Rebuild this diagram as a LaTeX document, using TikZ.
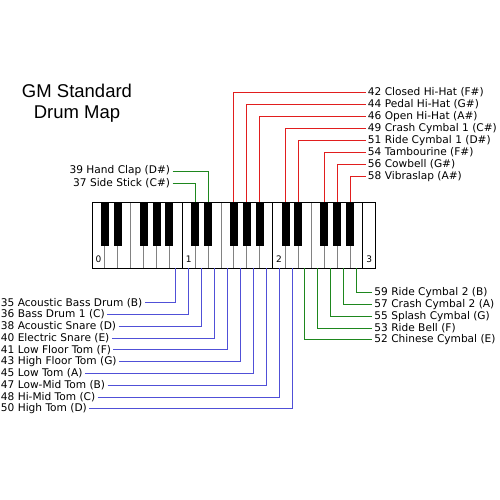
\documentclass[tikz,border=0pt]{standalone}
\usepackage{fontspec}
\setmainfont{DejaVu Sans}
\newfontfamily\titlefont{Liberation Sans}
\usetikzlibrary{positioning}
\definecolor{hatred}{RGB}{225,30,30}
\definecolor{tomblue}{RGB}{80,80,215}
\definecolor{cymgreen}{RGB}{30,135,30}
\definecolor{keygray}{RGB}{130,130,130}
\tikzset{
    drumlabel/.style={inner ysep=0pt, inner xsep=2pt, font=\fontsize{10.6}{12}\selectfont},
    octlabel/.style={inner sep=0pt, font=\fontsize{9}{10}\selectfont}
}

\begin{document}
\begin{tikzpicture}[x=1pt, y=-1pt, line width=0.9pt]
    \useasboundingbox (0,0) rectangle (500,500);
    \def\kw{12.9}
    \node[font=\titlefont\fontsize{18.5}{21}\selectfont, align=center] (title) at (77, 103) {GM Standard\\Drum Map};
    % keyboard
    \foreach \k in {1,...,21}{
        \draw[keygray] (92+\k*\kw, 202) -- (92+\k*\kw, 268);
    }
    \foreach \k in {7,14,21}{
        \draw (92+\k*\kw, 202) -- (92+\k*\kw, 268);
    }
    \foreach \k in {1,2,4,5,6,8,9,11,12,13,15,16,18,19,20}{
        \fill (92+\k*\kw-4, 202) rectangle (92+\k*\kw+4, 246);
        \coordinate (b\k) at (92+\k*\kw, 202);
    }
    \foreach \k in {0,...,21}{
        \coordinate (w\k) at (92+\k*\kw+0.5*\kw, 268);
    }
    \draw (92, 202) rectangle (92+22*\kw, 268);
    \foreach \k/\o in {0/0, 7/1, 14/2, 21/3}{
        \node[octlabel] (oct\o) at (92+\k*\kw+0.5*\kw, 259) {\o};
    }
    % black keys, above
    \foreach \num/\drum/\k [count=\i from 0] in {42/Closed Hi-Hat (F\#)/11, 44/Pedal Hi-Hat (G\#)/12,
        46/Open Hi-Hat (A\#)/13, 49/Crash Cymbal 1 (C\#)/15, 51/Ride Cymbal 1 (D\#)/16,
        54/Tambourine (F\#)/18, 56/Cowbell (G\#)/19, 58/Vibraslap (A\#)/20}{
        \node[drumlabel, anchor=west] (d\num) at (365.5, 92.5+12*\i) {\num\ \drum};
        \draw[hatred] (d\num.west) -| (b\k);
    }
    \foreach \num/\drum/\k [count=\i from 0] in {39/Hand Clap (D\#)/9, 37/Side Stick (C\#)/8}{
        \node[drumlabel, anchor=east] (d\num) at (172.5, 171+12.3*\i) {\num\ \drum};
        \draw[cymgreen] (d\num.east) -| (b\k);
    }
    % white keys, below
    \foreach \num/\drum/\k [count=\i from 0] in {35/Acoustic Bass Drum (B)/6, 36/Bass Drum 1 (C)/7,
        38/Acoustic Snare (D)/8, 40/Electric Snare (E)/9, 41/Low Floor Tom (F)/10,
        43/High Floor Tom (G)/11, 45/Low Tom (A)/12, 47/Low-Mid Tom (B)/13,
        48/Hi-Mid Tom (C)/14, 50/High Tom (D)/15}{
        \node[drumlabel, anchor=west] (d\num) at (-1.5, 302.7+11.8*\i) {\num\ \drum};
        \draw[tomblue] (d\num.east) -| (w\k);
    }
    \foreach \num/\drum/\k [count=\i from 0] in {59/Ride Cymbal 2 (B)/20, 57/Crash Cymbal 2 (A)/19,
        55/Splash Cymbal (G)/18, 53/Ride Bell (F)/17, 52/Chinese Cymbal (E)/16}{
        \node[drumlabel, anchor=west] (d\num) at (372, 292.7+11.8*\i) {\num\ \drum};
        \draw[cymgreen] (d\num.west) -| (w\k);
    }
\end{tikzpicture}
\end{document}
